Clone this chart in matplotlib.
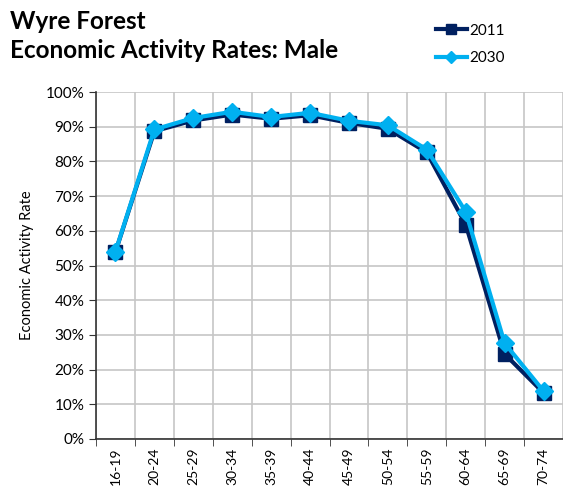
import matplotlib.pyplot as plt
import numpy as np
from matplotlib.ticker import FixedLocator, PercentFormatter

plt.rcParams['font.family'] = ['Lato', 'DejaVu Sans']

AGE_GROUPS = ["16-19", "20-24", "25-29", "30-34", "35-39", "40-44",
              "45-49", "50-54", "55-59", "60-64", "65-69", "70-74"]
RATE_2011 = [53.9, 88.7, 91.8, 93.5, 92.3, 93.3, 91.1, 89.4, 82.6, 61.8, 24.5, 13.3]
RATE_2030 = [54.0, 89.2, 92.5, 94.3, 92.8, 94.0, 91.7, 90.4, 83.4, 65.5, 27.6, 13.8]

NAVY = "#002060"
SKY = "#00B0F0"
GRID = "#C6C6C6"

fig = plt.figure(figsize=(5.63, 4.97), dpi=100)
ax = fig.add_axes([96 / 563, 58 / 497, 1 - 96 / 563, 347 / 497])

x = np.arange(len(AGE_GROUPS))
ax.plot(x, RATE_2011, color=NAVY, linewidth=3, marker="s", markersize=10,
        label="2011", zorder=3)
ax.plot(x, RATE_2030, color=SKY, linewidth=3, marker="D", markersize=9,
        label="2030", zorder=4)

ax.set_xlim(-0.5, len(AGE_GROUPS) - 0.5)
ax.set_ylim(0, 100)
ax.set_yticks(np.arange(0, 101, 10))
ax.yaxis.set_major_formatter(PercentFormatter(decimals=0))
ax.set_xticks(x)
ax.set_xticklabels(AGE_GROUPS, rotation=90, fontsize=10)
ax.xaxis.set_minor_locator(FixedLocator(np.arange(-0.5, len(AGE_GROUPS), 1)))
ax.tick_params(axis="x", which="major", length=0, pad=6)
ax.tick_params(axis="x", which="minor", length=5, direction="out", color="#333333")
ax.tick_params(axis="y", length=5, direction="out", color="#333333", labelsize=11)

ax.grid(True, axis="y", color=GRID, linewidth=1.2)
ax.grid(True, axis="x", which="minor", color=GRID, linewidth=1.2)
ax.set_axisbelow(True)
for side in ("top", "right"):
    ax.spines[side].set_visible(False)
for side in ("left", "bottom"):
    ax.spines[side].set_color("#333333")
    ax.spines[side].set_linewidth(1.2)

ax.set_ylabel("Economic Activity Rate", fontsize=10.5, labelpad=8)

fig.text(0.018, 0.956, "Wyre Forest", fontsize=17.5, fontweight="bold", va="center")
fig.text(0.018, 0.898, "Economic Activity Rates: Male", fontsize=17.5,
         fontweight="bold", va="center")

fig.legend(loc="upper left", bbox_to_anchor=(0.75, 0.98), frameon=False,
           fontsize=11, handlelength=2.0, handletextpad=0.2, labelspacing=0.9,
           markerscale=0.7)

fig.savefig("out.png", dpi=100, facecolor="white")
